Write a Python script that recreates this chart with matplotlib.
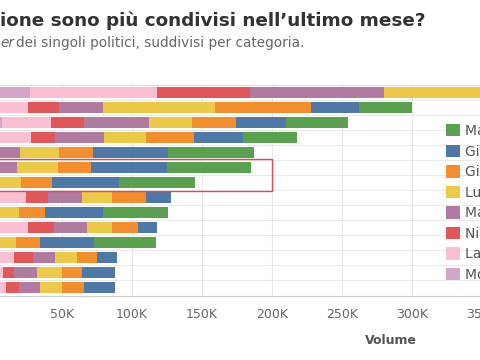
#!/usr/bin/env python3
"""
Stacked horizontal bars: volume of shared posts per category, split by politician.
Cropped view of the original dashboard (row labels and left edge are off-canvas).
"""

import matplotlib
matplotlib.use("Agg")
import matplotlib.pyplot as plt
from matplotlib.patches import Patch, Rectangle


# values in thousands, one entry per row (top to bottom)
politici = [
    "Monica Cirinnà", "Laura Boldrini", "Nicola Zingaretti", "Matteo Renzi",
    "Luigi Di Maio", "Giuseppe Conte", "Giorgia Meloni", "Matteo Salvini",
]
mo = [27, 0, 7, 0, 0, 0, 0, 0, 0, 0, 0, 0, 0, 0]
lar = [91, 26, 35, 28, 0, 0, 0, 24, 0, 26, 0, 16, 8, 10]
nic = [66, 22, 24, 17, 0, 0, 0, 16, 0, 18, 0, 13, 8, 9]
ma_renzi = [96, 31, 46, 35, 20, 18, 0, 24, 0, 24, 0, 16, 16, 15]
lui = [91, 80, 31, 30, 28, 29, 21, 22, 19, 18, 17, 16, 18, 16]
giu = [0, 69, 31, 34, 24, 24, 22, 24, 19, 18, 17, 14, 14, 16]
gio = [0, 34, 36, 35, 54, 54, 48, 18, 41, 14, 39, 14, 24, 22]
ma_salvini = [0, 38, 44, 39, 61, 60, 54, 0, 47, 0, 44, 0, 0, 0]

serie = [mo, lar, nic, ma_renzi, lui, giu, gio, ma_salvini]
colori = ["#d4a6c8", "#fabfd2", "#e15759", "#b07aa1",
          "#edc948", "#f28e2b", "#4e79a7", "#59a14f"]

x_ticks = [0, 50, 100, 150, 200, 250, 300, 350]

W, H = 480, 360


def main() -> None:
    fig = plt.figure(figsize=(W / 100, H / 100), dpi=100)

    # axes spans pixel -8 .. 482 so that 0K and 350K fall just outside the canvas
    ax = fig.add_axes([-8 / W, (H - 296) / H, 490 / W, (296 - 85) / H])

    n = len(mo)
    rows = list(range(n))
    left = [0.0] * n
    for vals, col in zip(serie, colori):
        ax.barh(rows, vals, left=left, height=0.73, color=col,
                edgecolor="none", zorder=3)
        left = [a + b for a, b in zip(left, vals)]

    ax.set_xlim(0, 350)
    ax.set_ylim(13.567, -0.5)
    ax.set_yticks([])
    ax.set_xticks(x_ticks)
    ax.set_xticklabels([f"{v}K" for v in x_ticks])
    ax.tick_params(axis="x", length=0, pad=9, labelsize=9, labelcolor="#666666")
    ax.grid(axis="x", color="#e8e8e8", linewidth=0.8, zorder=0)

    for i in range(n - 1):
        ax.axhline(i + 0.5, color="#e6e6e6", linewidth=0.6, zorder=1)

    for side in ["left", "right"]:
        ax.spines[side].set_visible(False)
    ax.spines["top"].set_color("#dddddd")
    ax.spines["bottom"].set_color("#cccccc")

    # highlighted rows
    ax.add_patch(Rectangle((-10, 4.45), 210, 2.1, fill=False,
                           edgecolor="#e8474f", linewidth=1.0, zorder=5,
                           clip_on=False))

    handles = [Patch(facecolor=c, edgecolor="none") for c in colori[::-1]]
    fig.legend(handles, politici[::-1], loc="upper left",
               bbox_to_anchor=(446 / W, (H - 124) / H), frameon=False,
               fontsize=10, handlelength=1.0, handleheight=1.0,
               handletextpad=0.4, labelspacing=0.47, borderpad=0,
               borderaxespad=0, labelcolor="#555555")

    fig.text(0, 1 - 26 / H, "ione sono più condivisi nell’ultimo mese?",
             ha="left", va="baseline", fontsize=13.2, fontweight="bold",
             color="#333333")
    fig.text(0, 1 - 47 / H, "er", ha="left", va="baseline", fontsize=9.8,
             style="italic", color="#666666")
    fig.text(16 / W, 1 - 47 / H, "dei singoli politici, suddivisi per categoria.",
             ha="left", va="baseline", fontsize=9.8, color="#666666")

    fig.text(391 / W, 1 - 341 / H, "Volume", ha="center", va="center",
             fontsize=9, fontweight="bold", color="#555555")

    fig.savefig("out.png", dpi=100)


if __name__ == "__main__":
    main()
